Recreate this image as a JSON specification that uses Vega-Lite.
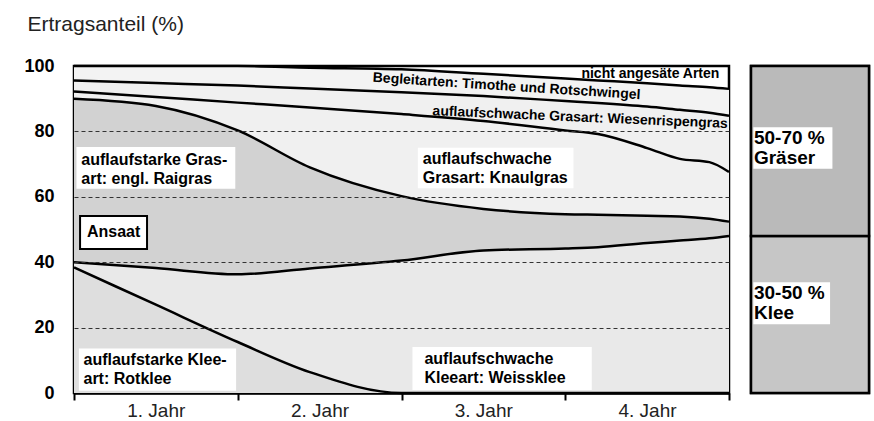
{
  "$schema": "https://vega.github.io/schema/vega-lite/v6.json",
  "padding": {"left": 22, "top": 11, "right": 2, "bottom": 0},
  "background": "white",
  "bounds": "flush",
  "spacing": 22,
  "config": {
    "view": {"stroke": "black", "strokeWidth": 2.5},
    "font": "Liberation Sans"
  },
  "datasets": {
    "curve": [
      {"t": 0, "K": 38.4, "W": 40, "R": 90, "C": 92.2, "B": 95.6, "A": 100},
      {"t": 0.5, "K": 27, "W": 38.2, "R": 87.8, "C": 90.5, "B": 94.8, "A": 100},
      {"t": 1, "K": 15.6, "W": 36.3, "R": 80.3, "C": 88.8, "B": 94, "A": 100},
      {"t": 1.44, "K": 6.4, "W": 38.1, "R": 69, "C": 87.3, "B": 93.1, "A": 99.5},
      {"t": 2, "K": 0, "W": 40.5, "R": 60.2, "C": 85.3, "B": 92, "A": 99},
      {"t": 2.5, "K": 0, "W": 43.6, "R": 56.3, "C": 83.2, "B": 90.8, "A": 97.6},
      {"t": 3, "K": 0, "W": 44.2, "R": 54.7, "C": 80.3, "B": 89.3, "A": 96.2},
      {"t": 3.2, "K": 0, "W": 44.6, "R": 54.5, "C": 79.2, "B": 88.7, "A": 95.6},
      {"t": 3.5, "K": 0, "W": 45.9, "R": 54.2, "C": 74.9, "B": 87.6, "A": 94.7},
      {"t": 3.7, "K": 0, "W": 46.6, "R": 54, "C": 71.6, "B": 86.6, "A": 94},
      {"t": 3.88, "K": 0, "W": 47.3, "R": 53.3, "C": 70.6, "B": 85.7, "A": 93.5},
      {"t": 4, "K": 0, "W": 48, "R": 52.4, "C": 67.6, "B": 84.8, "A": 93}
    ],
    "boxes": [
      {"t1": 0.015, "t2": 0.985, "v1": 75.2, "v2": 62.5},
      {"t1": 2.1, "t2": 3.05, "v1": 75, "v2": 62.6},
      {"t1": 0.03, "t2": 0.99, "v1": 13.6, "v2": 0.7},
      {"t1": 2.067, "t2": 3.162, "v1": 14.1, "v2": 0.9}
    ],
    "ansaat": [
      {"t1": 0.037, "t2": 0.446, "v1": 54.1, "v2": 44.0}
    ],
    "notes": [
      {"grp": "big", "text": "auflaufstarke Gras-\nart: engl. Raigras", "t": 0.045, "v": 69.7},
      {"grp": "big", "text": "auflaufschwache\nGrasart: Knaulgras", "t": 2.13, "v": 70},
      {"grp": "big", "text": "auflaufstarke Klee-\nart: Rotklee", "t": 0.058, "v": 8.6},
      {"grp": "big", "text": "auflaufschwache\nKleeart: Weissklee", "t": 2.14, "v": 8.9},
      {"grp": "box", "text": "Ansaat", "t": 0.242, "v": 49.1},
      {"grp": "top", "text": "nicht angesäte Arten", "t": 3.52, "v": 96.3},
      {"grp": "beg", "text": "Begleitarten: Timothe und Rotschwingel", "t": 2.64, "v": 92.5},
      {"grp": "wie", "text": "auflaufschwache Grasart: Wiesenrispengras", "t": 3.09, "v": 83.0}
    ],
    "share": [
      {"part": "Klee", "lo": 0, "hi": 48},
      {"part": "Gräser", "lo": 48, "hi": 100}
    ],
    "sharebox": [
      {"x1": 0.02, "x2": 0.69, "v1": 81.3, "v2": 68.6},
      {"x1": 0.02, "x2": 0.67, "v1": 33.9, "v2": 21.0}
    ],
    "sharelabels": [
      {"text": "50-70 %\nGräser", "x": 0.025, "v": 76.1},
      {"text": "30-50 %\nKlee", "x": 0.025, "v": 28.7}
    ]
  },
  "hconcat": [
    {
      "width": 655,
      "height": 327,
      "layer": [
        {
          "data": {"name": "curve"},
          "mark": {"type": "area", "fill": "#dedede", "interpolate": "monotone"},
          "encoding": {
            "x": {
              "field": "t", "type": "quantitative",
              "scale": {"domain": [0, 4], "nice": false, "zero": false},
              "axis": {
                "values": [0, 1, 2, 3, 4],
                "labelExpr": "datum.value < 4 ? (datum.value + 1) + '. Jahr' : ''",
                "labelOffset": 81.75,
                "grid": false, "title": null,
                "domainColor": "black", "domainWidth": 2.5,
                "tickColor": "black", "tickWidth": 2, "tickSize": 7,
                "labelFontSize": 19, "labelColor": "#222", "labelPadding": 1,
                "labelOverlap": false, "labelFlush": false, "labelBound": false
              }
            },
            "y": {
              "field": "K", "type": "quantitative",
              "scale": {"domain": [0, 100], "nice": false},
              "axis": {
                "values": [0, 20, 40, 60, 80, 100],
                "domain": false, "ticks": false, "tickSize": 0,
                "labelPadding": 20, "labelFontSize": 18, "labelFontWeight": "bold", "labelColor": "black",
                "grid": true, "gridDash": [4, 3], "gridColor": "#333", "gridWidth": 1,
                "gridOpacity": {"condition": {"test": "datum.value == 0 || datum.value == 100", "value": 0}, "value": 1},
                "title": "Ertragsanteil (%)", "titleAngle": 0, "titleAlign": "left", "titleBaseline": "alphabetic",
                "titleX": -47, "titleY": -36, "titleFontSize": 21, "titleFontWeight": "normal", "titleColor": "#222",
                "zindex": 1
              }
            }
          }
        },
        {
          "data": {"name": "curve"},
          "mark": {"type": "area", "fill": "#e9e9e9", "interpolate": "monotone"},
          "encoding": {
            "x": {"field": "t", "type": "quantitative"},
            "y": {"field": "K", "type": "quantitative"},
            "y2": {"field": "W"}
          }
        },
        {
          "data": {"name": "curve"},
          "mark": {"type": "area", "fill": "#d2d2d2", "interpolate": "monotone"},
          "encoding": {
            "x": {"field": "t", "type": "quantitative"},
            "y": {"field": "W", "type": "quantitative"},
            "y2": {"field": "R"}
          }
        },
        {
          "data": {"name": "curve"},
          "mark": {"type": "area", "fill": "#f0f0f0", "interpolate": "monotone"},
          "encoding": {
            "x": {"field": "t", "type": "quantitative"},
            "y": {"field": "R", "type": "quantitative"},
            "y2": {"field": "C"}
          }
        },
        {
          "data": {"name": "curve"},
          "mark": {"type": "area", "fill": "#f0f0f0", "interpolate": "monotone"},
          "encoding": {
            "x": {"field": "t", "type": "quantitative"},
            "y": {"field": "C", "type": "quantitative"},
            "y2": {"field": "B"}
          }
        },
        {
          "data": {"name": "curve"},
          "mark": {"type": "area", "fill": "#f3f3f3", "interpolate": "monotone"},
          "encoding": {
            "x": {"field": "t", "type": "quantitative"},
            "y": {"field": "B", "type": "quantitative"},
            "y2": {"field": "A"}
          }
        },
        {
          "data": {"name": "boxes"},
          "mark": {"type": "rect", "fill": "white"},
          "encoding": {
            "x": {"field": "t1", "type": "quantitative"},
            "x2": {"field": "t2"},
            "y": {"field": "v1", "type": "quantitative"},
            "y2": {"field": "v2"}
          }
        },
        {
          "data": {"name": "ansaat"},
          "mark": {"type": "rect", "fill": "white", "stroke": "black", "strokeWidth": 2},
          "encoding": {
            "x": {"field": "t1", "type": "quantitative"},
            "x2": {"field": "t2"},
            "y": {"field": "v1", "type": "quantitative"},
            "y2": {"field": "v2"}
          }
        },
        {
          "data": {"name": "curve"},
          "transform": [{"fold": ["K", "W", "R", "C", "B", "A"], "as": ["key", "val"]}],
          "mark": {"type": "line", "stroke": "black", "strokeWidth": 2.5, "interpolate": "monotone"},
          "encoding": {
            "x": {"field": "t", "type": "quantitative"},
            "y": {"field": "val", "type": "quantitative"},
            "detail": {"field": "key"}
          }
        },
        {
          "data": {"name": "notes"},
          "transform": [{"filter": "datum.grp == 'big'"}],
          "mark": {"type": "text", "align": "left", "baseline": "alphabetic", "fontSize": 16, "fontWeight": "bold", "lineBreak": "\n", "lineHeight": 19, "color": "black"},
          "encoding": {
            "x": {"field": "t", "type": "quantitative"},
            "y": {"field": "v", "type": "quantitative"},
            "text": {"field": "text"}
          }
        },
        {
          "data": {"name": "notes"},
          "transform": [{"filter": "datum.grp == 'box'"}],
          "mark": {"type": "text", "align": "center", "baseline": "middle", "fontSize": 16, "fontWeight": "bold", "color": "black"},
          "encoding": {
            "x": {"field": "t", "type": "quantitative"},
            "y": {"field": "v", "type": "quantitative"},
            "text": {"field": "text"}
          }
        },
        {
          "data": {"name": "notes"},
          "transform": [{"filter": "datum.grp == 'top'"}],
          "mark": {"type": "text", "align": "center", "baseline": "alphabetic", "fontSize": 14, "fontWeight": "bold", "color": "black"},
          "encoding": {
            "x": {"field": "t", "type": "quantitative"},
            "y": {"field": "v", "type": "quantitative"},
            "text": {"field": "text"}
          }
        },
        {
          "data": {"name": "notes"},
          "transform": [{"filter": "datum.grp == 'beg'"}],
          "mark": {"type": "text", "align": "center", "baseline": "alphabetic", "fontSize": 14, "fontWeight": "bold", "angle": 3.7, "color": "black"},
          "encoding": {
            "x": {"field": "t", "type": "quantitative"},
            "y": {"field": "v", "type": "quantitative"},
            "text": {"field": "text"}
          }
        },
        {
          "data": {"name": "notes"},
          "transform": [{"filter": "datum.grp == 'wie'"}],
          "mark": {"type": "text", "align": "center", "baseline": "alphabetic", "fontSize": 14, "fontWeight": "bold", "angle": 2.5, "color": "black"},
          "encoding": {
            "x": {"field": "t", "type": "quantitative"},
            "y": {"field": "v", "type": "quantitative"},
            "text": {"field": "text"}
          }
        }
      ]
    },
    {
      "width": 118,
      "height": 327,
      "layer": [
        {
          "data": {"name": "share"},
          "mark": {"type": "rect", "stroke": "black", "strokeWidth": 2.5},
          "encoding": {
            "x": {"value": 0},
            "x2": {"value": "width"},
            "y": {"field": "lo", "type": "quantitative", "scale": {"domain": [0, 100], "nice": false}, "axis": null},
            "y2": {"field": "hi"},
            "fill": {"field": "part", "type": "nominal", "scale": {"domain": ["Klee", "Gräser"], "range": ["#c6c6c6", "#bababa"]}, "legend": null}
          }
        },
        {
          "data": {"name": "sharebox"},
          "mark": {"type": "rect", "fill": "white"},
          "encoding": {
            "x": {"field": "x1", "type": "quantitative", "scale": {"domain": [0, 1], "nice": false}, "axis": null},
            "x2": {"field": "x2"},
            "y": {"field": "v1", "type": "quantitative", "axis": null},
            "y2": {"field": "v2"}
          }
        },
        {
          "data": {"name": "sharelabels"},
          "mark": {"type": "text", "align": "left", "baseline": "alphabetic", "fontSize": 19, "fontWeight": "bold", "lineBreak": "\n", "lineHeight": 20, "color": "black"},
          "encoding": {
            "x": {"field": "x", "type": "quantitative", "axis": null},
            "y": {"field": "v", "type": "quantitative", "axis": null},
            "text": {"field": "text"}
          }
        }
      ]
    }
  ]
}
